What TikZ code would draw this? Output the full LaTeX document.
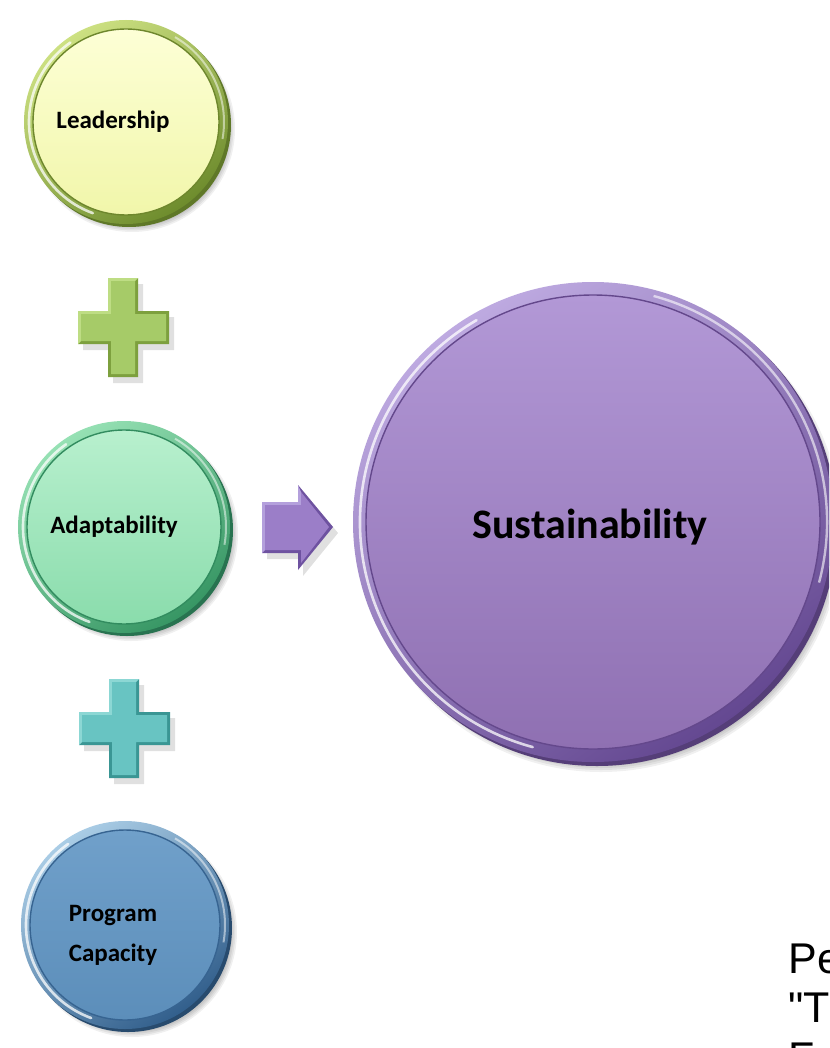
\documentclass[tikz,border=0pt]{standalone}
\usepackage{fontspec}
\setmainfont{Carlito}
\newfontfamily\arialf{Liberation Sans}
\definecolor{plgEdge}{RGB}{125,160,62}
\definecolor{plgLight}{RGB}{190,221,132}
\definecolor{plgFace}{RGB}{166,203,104}
\definecolor{pltEdge}{RGB}{58,150,148}
\definecolor{pltLight}{RGB}{140,215,212}
\definecolor{pltFace}{RGB}{104,196,194}
\definecolor{arEdge}{RGB}{110,82,160}
\definecolor{arLight}{RGB}{180,160,220}
\definecolor{arFace}{RGB}{155,126,200}
\definecolor{ldTop}{RGB}{253,255,214}
\definecolor{ldBot}{RGB}{241,246,170}
\definecolor{ldRimL}{RGB}{205,225,130}
\definecolor{ldRimD}{RGB}{110,140,45}
\definecolor{ldBack}{RGB}{95,120,40}
\definecolor{ldLine}{RGB}{110,135,45}
\definecolor{adTop}{RGB}{184,240,206}
\definecolor{adBot}{RGB}{138,220,172}
\definecolor{adRimL}{RGB}{150,225,180}
\definecolor{adRimD}{RGB}{55,150,100}
\definecolor{adBack}{RGB}{40,115,80}
\definecolor{adLine}{RGB}{50,140,95}
\definecolor{pcTop}{RGB}{112,160,202}
\definecolor{pcBot}{RGB}{92,142,186}
\definecolor{pcRimL}{RGB}{170,205,230}
\definecolor{pcRimD}{RGB}{50,95,140}
\definecolor{pcBack}{RGB}{40,75,110}
\definecolor{pcLine}{RGB}{55,100,145}
\definecolor{suTop}{RGB}{178,152,214}
\definecolor{suBot}{RGB}{143,112,178}
\definecolor{suRimL}{RGB}{190,170,225}
\definecolor{suRimD}{RGB}{100,72,145}
\definecolor{suBack}{RGB}{85,62,120}
\definecolor{suLine}{RGB}{100,72,140}
\begin{document}
\begin{tikzpicture}[x=0.5pt,y=-0.5pt,
  shadowc/.style={fill=black,opacity=0.06},
  lbl/.style={font=\bfseries\fontsize{12.5}{20}\selectfont,align=center,text=black},
  face/.style={circle,inner sep=0pt,draw=#1,line width=0.7pt},
  hilite/.style={draw=white,opacity=0.75,line width=1.3pt,line cap=round},
  cite/.style={anchor=base west,font=\arialf\fontsize{21.5}{24.5}\selectfont,inner sep=0pt}
]
\useasboundingbox (0,0) rectangle (829,1048);
\clip (0,0) rectangle (829,1048);
\fill[white] (0,0) rectangle (829,1048);

% ---------- Leadership ----------
\foreach \k in {0,...,5} \fill[shadowc] (132,129) circle[radius=103-\k*1.6];
\fill[ldBack] (129,125) circle[radius=102];
\shade[top color=ldRimL, bottom color=ldRimD, shading angle=35] (126,122) circle[radius=102];
\draw[hilite] (126,122) ++(110:97) arc[start angle=110,end angle=235,radius=97];
\draw[white,opacity=0.5,line width=1pt] (126,122) ++(-60:98) arc[start angle=-60,end angle=10,radius=98];
\node[face=ldLine,minimum size=93pt,top color=ldTop,bottom color=ldBot] (lead) at (126,122) {};
\node[lbl] (leadt) at (113,122) {Leadership};

% ---------- plus 1 ----------
\begin{scope}[shift={(123,327)}]
  \fill[black,opacity=0.12] (-40,-10) -- (-10,-10) -- (-10,-43) -- (20,-43) -- (20,-10) -- (51,-10) -- (51,23) -- (20,23) -- (20,56) -- (-10,56) -- (-10,23) -- (-40,23) -- cycle;
  \fill[plgEdge] (-45,-16) -- (-15,-16) -- (-15,-49) -- (15,-49) -- (15,-16) -- (46,-16) -- (46,17) -- (15,17) -- (15,50) -- (-15,50) -- (-15,17) -- (-45,17) -- cycle;
  \fill[plgLight] (-45,-16) -- (-15,-16) -- (-15,-49) -- (15,-49) -- (12,-46) -- (-12,-46) -- (-12,-13) -- (-42,-13) -- (-42,14) -- (-45,17) -- cycle;
  \fill[plgFace] (-42,-13) -- (-12,-13) -- (-12,-46) -- (12,-46) -- (12,-13) -- (43,-13) -- (43,14) -- (12,14) -- (12,47) -- (-12,47) -- (-12,14) -- (-42,14) -- cycle;
\end{scope}

% ---------- Adaptability ----------
\foreach \k in {0,...,5} \fill[shadowc] (131,534) circle[radius=107-\k*1.6];
\fill[adBack] (127,530) circle[radius=106];
\shade[top color=adRimL, bottom color=adRimD, shading angle=35] (124,527) circle[radius=106];
\draw[hilite] (124,527) ++(110:101) arc[start angle=110,end angle=235,radius=101];
\draw[white,opacity=0.5,line width=1pt] (124,527) ++(-60:102) arc[start angle=-60,end angle=10,radius=102];
\node[face=adLine,minimum size=97pt,top color=adTop,bottom color=adBot] (adapt) at (124,527) {};
\node[lbl] (adaptt) at (114,527) {Adaptability};

% ---------- plus 2 ----------
\begin{scope}[shift={(124,728)}]
  \fill[black,opacity=0.12] (-40,-10) -- (-10,-10) -- (-10,-43) -- (20,-43) -- (20,-10) -- (51,-10) -- (51,23) -- (20,23) -- (20,56) -- (-10,56) -- (-10,23) -- (-40,23) -- cycle;
  \fill[pltEdge] (-45,-16) -- (-15,-16) -- (-15,-49) -- (15,-49) -- (15,-16) -- (46,-16) -- (46,17) -- (15,17) -- (15,50) -- (-15,50) -- (-15,17) -- (-45,17) -- cycle;
  \fill[pltLight] (-45,-16) -- (-15,-16) -- (-15,-49) -- (15,-49) -- (12,-46) -- (-12,-46) -- (-12,-13) -- (-42,-13) -- (-42,14) -- (-45,17) -- cycle;
  \fill[pltFace] (-42,-13) -- (-12,-13) -- (-12,-46) -- (12,-46) -- (12,-13) -- (43,-13) -- (43,14) -- (12,14) -- (12,47) -- (-12,47) -- (-12,14) -- (-42,14) -- cycle;
\end{scope}

% ---------- Program Capacity ----------
\foreach \k in {0,...,5} \fill[shadowc] (132,932) circle[radius=105-\k*1.6];
\fill[pcBack] (128,928) circle[radius=104];
\shade[top color=pcRimL, bottom color=pcRimD, shading angle=35] (125,925) circle[radius=104];
\draw[hilite] (125,925) ++(110:99) arc[start angle=110,end angle=235,radius=99];
\draw[white,opacity=0.5,line width=1pt] (125,925) ++(-60:100) arc[start angle=-60,end angle=10,radius=100];
\node[face=pcLine,minimum size=95pt,top color=pcTop,bottom color=pcBot] (prog) at (125,925) {};
\node[lbl] (progt) at (113,935) {Program\\Capacity};

% ---------- arrow ----------
\fill[black,opacity=0.12] (267,508) -- (303,508) -- (303,491) -- (338,533) -- (303,576) -- (303,559) -- (267,559) -- cycle;
\fill[arEdge] (262,502) -- (298,502) -- (298,485) -- (333,527) -- (298,570) -- (298,553) -- (262,553) -- cycle;
\fill[arLight] (262,502) -- (298,502) -- (298,485) -- (301,492) -- (301,505) -- (265,505) -- (265,550) -- (262,553) -- cycle;
\fill[arFace] (265,505) -- (301,505) -- (301,492) -- (329,527) -- (301,563) -- (301,550) -- (265,550) -- cycle;

% ---------- Sustainability ----------
\foreach \k in {0,...,7} \fill[shadowc] (601,531) circle[radius=241-\k*2];
\fill[suBack] (597,526) circle[radius=240];
\shade[top color=suRimL, bottom color=suRimD, shading angle=35] (593,522) circle[radius=240];
\draw[hilite] (593,522) ++(105:233) arc[start angle=105,end angle=240,radius=233];
\draw[white,opacity=0.6,line width=1.2pt] (593,522) ++(-75:234) arc[start angle=-75,end angle=15,radius=234];
\node[face=suLine,minimum size=227pt,top color=suTop,bottom color=suBot] (sust) at (593,522) {};
\node[font=\bfseries\fontsize{21}{25}\selectfont,text=black] (sustt) at (590,527) {Sustainability};

% ---------- citation (cut off) ----------
\node[cite] (c1) at (788,973) {Pe};
\node[cite] (c2) at (788,1022) {"T};
\node[cite] (c3) at (788,1072) {F};
\end{tikzpicture}
\end{document}
